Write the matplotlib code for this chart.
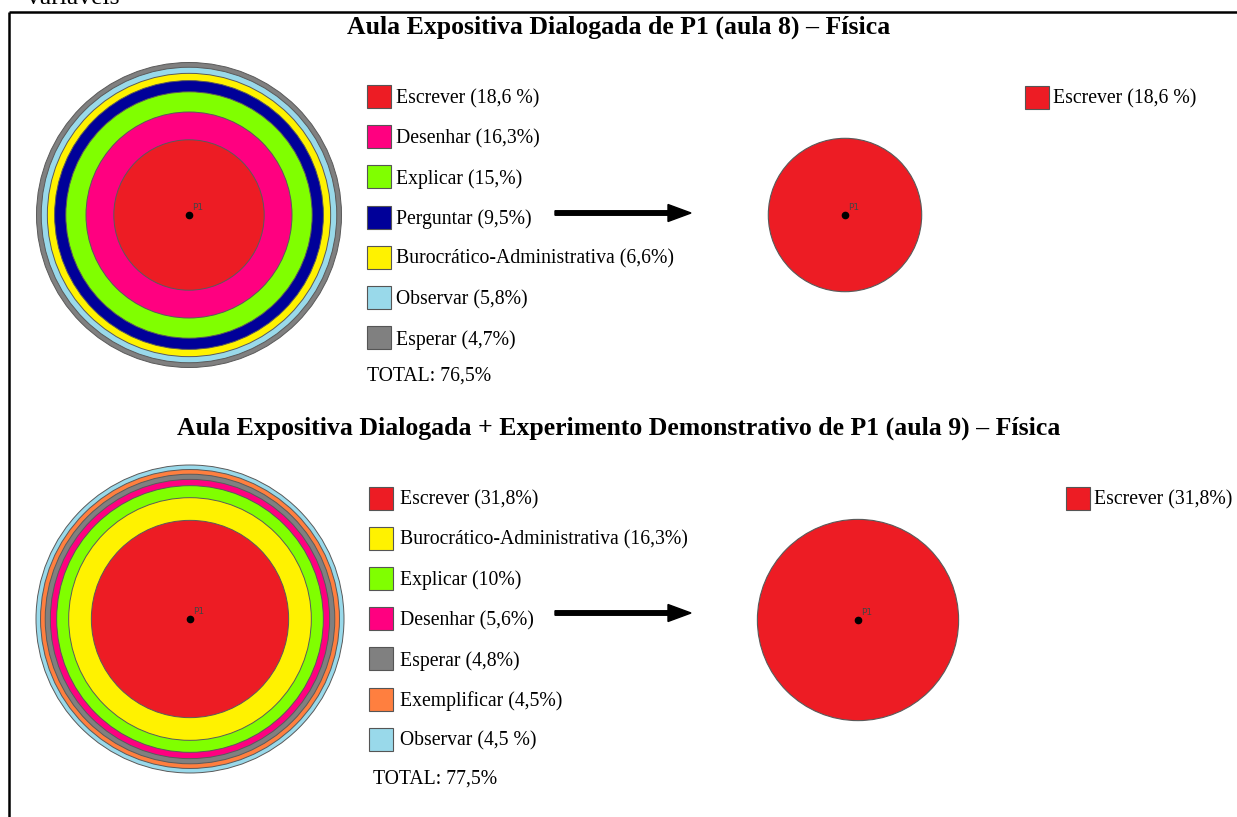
import matplotlib
matplotlib.use("Agg")
import matplotlib.pyplot as plt
from matplotlib.patches import Circle, Rectangle
import numpy as np

# ---------------- data ----------------
title_top = "Aula Expositiva Dialogada de P1 (aula 8) – Física"
labels_top = ["Escrever (18,6 %)", "Desenhar (16,3%)", "Explicar (15,%)", "Perguntar (9,5%)",
              "Burocrático-Administrativa (6,6%)", "Observar (5,8%)", "Esperar (4,7%)"]
values_top = [18.6, 16.3, 15.0, 9.5, 6.6, 5.8, 4.7]
colors_top = ["#ED1C24", "#FF0080", "#80FF00", "#000099", "#FFF200", "#99D9EA", "#808080"]
total_top = "TOTAL: 76,5%"

title_bot = "Aula Expositiva Dialogada + Experimento Demonstrativo de P1 (aula 9) – Física"
labels_bot = ["Escrever (31,8%)", "Burocrático-Administrativa (16,3%)", "Explicar (10%)",
              "Desenhar (5,6%)", "Esperar (4,8%)", "Exemplificar (4,5%)", "Observar (4,5 %)"]
values_bot = [31.8, 16.3, 10.0, 5.6, 4.8, 4.5, 4.5]
colors_bot = ["#ED1C24", "#FFF200", "#80FF00", "#FF0080", "#808080", "#FF7F3F", "#99D9EA"]
total_bot = "TOTAL: 77,5%"

point_label = "P1"

# ---------------- figure ----------------
W, H = 1237, 817
fig = plt.figure(figsize=(W / 100, H / 100), dpi=100)
ax = fig.add_axes([0, 0, 1, 1])
ax.set_xlim(0, W)
ax.set_ylim(H, 0)
ax.set_aspect("equal")
ax.axis("off")
renderer = fig.canvas.get_renderer()

SERIF = ["Liberation Serif", "DejaVu Serif"]


def fit_size(text, width_px, **kw):
    t = fig.text(0, 0, text, fontsize=10, **kw)
    w = t.get_window_extent(renderer).width
    t.remove()
    return 10 * width_px / w


title_fs = fit_size(title_top, 541, family=SERIF, weight="bold")
leg_fs = fit_size("Burocrático-Administrativa (6,6%)", 277, family=SERIF)

# frame
ax.plot([9, W + 5], [12, 12], color="black", lw=1.8, solid_capstyle="butt")
ax.plot([9, 9], [12, H + 5], color="black", lw=1.8, solid_capstyle="butt")
ax.text(27, 4, "variáveis", family=SERIF, fontsize=leg_fs * 1.3, va="baseline", ha="left")


def panel(title, title_y, labels, values, colors, total, cx, cy, R,
          leg_y0, sq_x, txt_x, tot_x, tot_y, arrow_y, rcx, rcy, rleg_x, rleg_y):
    ax.text(619, title_y, title, family=SERIF, weight="bold", fontsize=title_fs,
            ha="center", va="center")
    cum = np.cumsum(values)
    tot = cum[-1]
    # concentric rings, outermost first
    for c, col in zip(cum[::-1], colors[::-1]):
        r = R * np.sqrt(c / tot)
        ax.add_patch(Circle((cx, cy), r, facecolor=col, edgecolor="#5a5a5a", lw=0.7, zorder=2))
    ax.plot([cx], [cy], "o", color="black", ms=4.5, zorder=5)
    ax.text(cx + 3, cy - 3, point_label, fontsize=6.5, color="#444444", family="DejaVu Sans",
            ha="left", va="bottom", zorder=5)
    # legend
    for i, (lab, col) in enumerate(zip(labels, colors)):
        y = leg_y0 + 40.2 * i
        ax.add_patch(Rectangle((sq_x, y - 11.5), 24, 23, facecolor=col, edgecolor="#555555",
                               lw=0.8, zorder=3))
        ax.text(txt_x, y + 2, lab, family=SERIF, fontsize=leg_fs, ha="left", va="center")
    ax.text(tot_x, tot_y + 1, total, family=SERIF, fontsize=leg_fs, ha="left", va="center")
    # arrow
    ax.arrow(555, arrow_y, 136, 0, width=4.5, head_width=17, head_length=23,
             length_includes_head=True, color="black", zorder=3)
    # single category circle
    r1 = R * np.sqrt(values[0] / tot) * 1.02
    ax.add_patch(Circle((rcx, rcy), r1, facecolor=colors[0], edgecolor="#5a5a5a", lw=0.8, zorder=2))
    ax.plot([rcx], [rcy], "o", color="black", ms=4.5, zorder=5)
    ax.text(rcx + 3, rcy - 3, point_label, fontsize=6.5, color="#444444", family="DejaVu Sans",
            ha="left", va="bottom", zorder=5)
    ax.add_patch(Rectangle((rleg_x, rleg_y - 11.5), 24, 23, facecolor=colors[0],
                           edgecolor="#555555", lw=0.8, zorder=3))
    ax.text(rleg_x + 28, rleg_y + 2, labels[0], family=SERIF, fontsize=leg_fs, ha="left", va="center")


panel(title_top, 27, labels_top, values_top, colors_top, total_top,
      189, 215, 152.5, 96.5, 367, 396, 367, 375, 213, 845, 215, 1025, 97)
panel(title_bot, 428, labels_bot, values_bot, colors_bot, total_bot,
      190, 619, 154, 498, 369, 400, 373, 778, 613, 858, 620, 1066, 498)

fig.savefig("out.png", dpi=100)
